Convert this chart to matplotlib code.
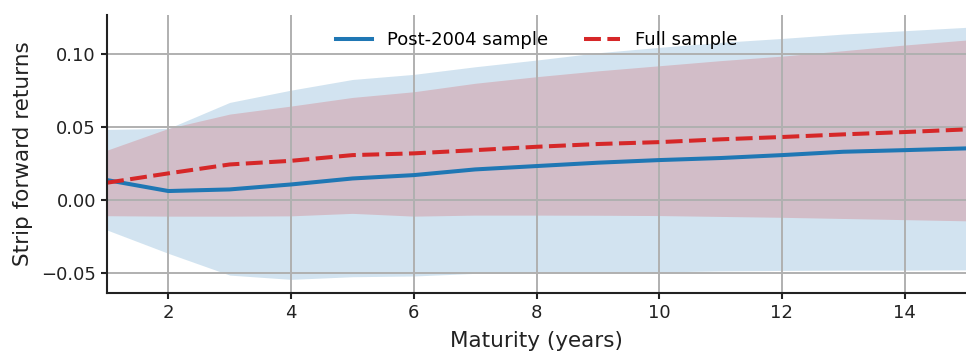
import numpy as np
import matplotlib
matplotlib.use("Agg")
import matplotlib.pyplot as plt

maturity = list(range(1, 16))

post2004 = [0.0137, 0.0062, 0.0073, 0.0107, 0.0148, 0.0171, 0.0210, 0.0233,
            0.0256, 0.0274, 0.0288, 0.0308, 0.0331, 0.0342, 0.0354]
post2004_hi = [0.0484, 0.0491, 0.0669, 0.0753, 0.0826, 0.0861, 0.0913, 0.0959,
               0.1009, 0.1046, 0.1080, 0.1107, 0.1137, 0.1160, 0.1183]
post2004_lo = [-0.0205, -0.0365, -0.0514, -0.0543, -0.0525, -0.0520, -0.0502, -0.0495,
               -0.0493, -0.0492, -0.0485, -0.0482, -0.0480, -0.0480, -0.0478]

full = [0.0119, 0.0183, 0.0244, 0.0269, 0.0308, 0.0320, 0.0342, 0.0365,
        0.0384, 0.0397, 0.0416, 0.0432, 0.0450, 0.0466, 0.0484]
full_hi = [0.0342, 0.0491, 0.0589, 0.0644, 0.0703, 0.0742, 0.0800, 0.0845,
           0.0885, 0.0920, 0.0955, 0.0986, 0.1023, 0.1062, 0.1096]
full_lo = [-0.0107, -0.0110, -0.0110, -0.0108, -0.0091, -0.0110, -0.0103, -0.0103,
           -0.0104, -0.0106, -0.0112, -0.0118, -0.0126, -0.0134, -0.0142]

plt.rcParams["font.family"] = ["DejaVu Sans"]

fig = plt.figure(figsize=(9.66, 3.51), dpi=100)
ax = fig.add_axes([0.1108, 0.165, 0.8892, 0.792])

blue = "#1f77b4"
red = "#d62728"
ink = "#222222"

ax.fill_between(maturity, post2004_lo, post2004_hi, color=blue, alpha=0.2, lw=0)
ax.fill_between(maturity, full_lo, full_hi, color=red, alpha=0.2, lw=0)
ax.plot(maturity, post2004, color=blue, lw=2.9, label="Post-2004 sample")
ax.plot(maturity, full, color=red, lw=2.9, ls=(0, (4.2, 1.6)), label="Full sample")

ax.set_xlim(1, 15)
ax.set_ylim(-0.0637, 0.1267)
ax.set_xticks([2, 4, 6, 8, 10, 12, 14])
ax.set_yticks([-0.05, 0.0, 0.05, 0.10])
ax.set_yticklabels(["\u22120.05", "0.00", "0.05", "0.10"])

ax.grid(True, color="#b0b0b0", lw=1.4)
for s in ["top", "right"]:
    ax.spines[s].set_visible(False)
for s in ["left", "bottom"]:
    ax.spines[s].set_linewidth(1.5)
    ax.spines[s].set_color(ink)
ax.tick_params(labelsize=13, width=1.5, length=4.5, pad=3.5, color=ink, labelcolor=ink)

ax.set_xlabel("Maturity (years)", fontsize=15.5, color=ink, labelpad=6)
ax.set_ylabel("Strip forward returns", fontsize=15.5, color=ink, labelpad=6)

ax.legend(loc="upper center", ncol=2, frameon=False, fontsize=13,
          bbox_to_anchor=(0.5, 1.0))

fig.savefig("out.png", dpi=100)
